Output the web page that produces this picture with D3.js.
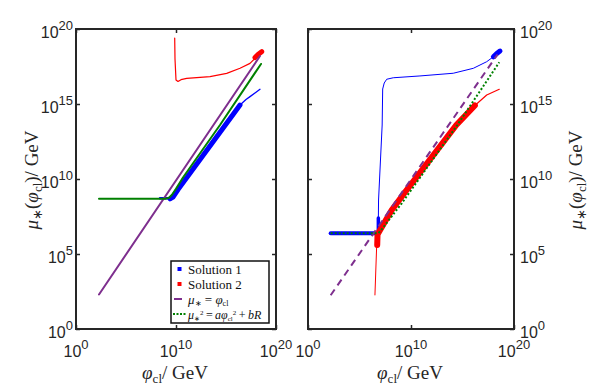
<!DOCTYPE html>
<html>
<head>
<meta charset="utf-8">
<script src="https://cdn.jsdelivr.net/npm/d3@7"></script>
<style>
  body { margin: 0; background: #fff; }
  svg { display: block; }
</style>
</head>
<body>
<script>
// all values are log10 exponents
const xTicks = [0, 10, 20];
const yTicks = [0, 5, 10, 15, 20];

// left panel
const blueL_flat_x = [8.4, 9.4];
const blueL_flat_y = [8.72, 8.72];
const blueL_thick_x = [9.4, 9.7, 10.2, 12, 14, 16.4];
const blueL_thick_y = [8.68, 8.8, 9.3, 10.93, 12.75, 14.93];
const blueL_thin_x = [16.4, 17.0, 17.4, 18.0, 18.4];
const blueL_thin_y = [14.93, 15.3, 15.49, 15.78, 15.98];
const redL_thin_x = [9.87, 9.9, 10.0, 10.2, 10.5, 11.07, 13.4, 15.07, 16.4, 17.4, 18.07];
const redL_thin_y = [19.4, 18.0, 16.6, 16.5, 16.62, 16.71, 16.82, 17.04, 17.38, 17.71, 18.15];
const redL_end_x = [17.9, 18.2, 18.57];
const redL_end_y = [18.1, 18.3, 18.49];
const purpleL_x = [2.3, 18.4];
const purpleL_y = [2.3, 18.2];
const greenL_x = [2.3, 9.0, 9.3, 9.6, 10.0, 10.7, 14.4, 18.5];
const greenL_y = [8.69, 8.69, 8.75, 8.95, 9.35, 10.1, 13.6, 17.67];

// right panel
const blueR_flat_x = [2.2, 6.8];
const blueR_flat_y = [6.38, 6.38];
const blueR_stub_x = [6.83, 6.83];
const blueR_stub_y = [6.38, 7.4];
const blueR_thin_x = [6.83, 6.85, 7.2, 7.25, 7.4, 7.64, 8.28, 10.87, 14.1, 16.05, 17.35, 18.0];
const blueR_thin_y = [7.4, 8.6, 13.6, 16.0, 16.4, 16.65, 16.75, 16.87, 17.05, 17.38, 17.82, 18.15];
const blueR_end_x = [18.0, 18.3, 18.64];
const blueR_end_y = [18.15, 18.35, 18.53];
const redR_low_x = [6.5, 6.67];
const redR_low_y = [2.27, 5.6];
const redR_thick_x = [6.72, 6.75, 7.0, 8.13, 9.58, 14.4, 16.2];
const redR_thick_y = [5.6, 6.3, 6.6, 7.93, 9.27, 13.6, 14.9];
const redR_thin_x = [16.2, 17.35, 18.57];
const redR_thin_y = [14.9, 15.6, 15.98];
const purpleR_x = [2.2, 18.4];
const purpleR_y = [2.25, 18.3];
const greenR_x = [2.2, 6.8, 7.0, 9.1, 14.5, 18.57];
const greenR_y = [6.38, 6.38, 6.5, 8.38, 13.6, 17.78];

const width = 592, height = 388;
const blue = "#0000ff", red = "#ff0000", purple = "#7e2f8e", green = "#008000", axisCol = "#262626";

const svg = d3.select("body").append("svg")
  .attr("width", width)
  .attr("height", height);

const yScale = d3.scaleLog().domain([1, 1e20]).range([329, 29]);

function zip(xs, ys) { return xs.map((x, i) => [Math.pow(10, x), Math.pow(10, ys[i])]); }

function label10(g, x, y, e, anchor) {
  const t = g.append("text")
    .attr("x", x).attr("y", y)
    .attr("text-anchor", anchor)
    .style("font-family", "Liberation Sans, Arial, sans-serif")
    .style("font-size", "16px")
    .style("fill", axisCol);
  t.append("tspan").text("10");
  t.append("tspan").attr("dy", -8).style("font-size", "13px").text(e);
}

function panel(x0, x1, side) {
  const xScale = d3.scaleLog().domain([1, 1e20]).range([x0, x1]);
  const g = svg.append("g");
  const line = d3.line().x(d => xScale(d[0])).y(d => yScale(d[1]));

  // ticks on all sides, pointing inward
  g.append("g").attr("transform", "translate(0,329)")
    .call(d3.axisBottom(xScale).tickValues(xTicks.map(v => Math.pow(10, v))).tickSize(-4).tickFormat(""));
  g.append("g").attr("transform", "translate(0,29)")
    .call(d3.axisTop(xScale).tickValues(xTicks.map(v => Math.pow(10, v))).tickSize(-4).tickFormat(""));
  g.append("g").attr("transform", "translate(" + x0 + ",0)")
    .call(d3.axisLeft(yScale).tickValues(yTicks.map(v => Math.pow(10, v))).tickSize(-4).tickFormat(""));
  g.append("g").attr("transform", "translate(" + x1 + ",0)")
    .call(d3.axisRight(yScale).tickValues(yTicks.map(v => Math.pow(10, v))).tickSize(-4).tickFormat(""));
  g.selectAll(".domain").remove();
  g.selectAll(".tick line").attr("stroke", axisCol).attr("stroke-width", 1.5);

  xTicks.forEach(v => label10(g, xScale(Math.pow(10, v)), 357, v, "middle"));
  yTicks.forEach(v => {
    const yy = yScale(Math.pow(10, v)) + 9;
    if (side === "left") label10(g, x0 - 3, yy, v, "end");
    else label10(g, x1 + 6, yy, v, "start");
  });

  const plot = g.append("g");
  return { g: g, plot: plot, line: line, xScale: xScale };
}

function drawLine(p, xs, ys, color, w, dash) {
  p.plot.append("path")
    .datum(zip(xs, ys))
    .attr("d", p.line)
    .attr("fill", "none")
    .attr("stroke", color)
    .attr("stroke-width", w)
    .attr("stroke-linecap", dash ? "butt" : "round")
    .attr("stroke-linejoin", "round")
    .attr("stroke-dasharray", dash || null);
}

function frame(p, x0, x1) {
  p.g.append("rect")
    .attr("x", x0).attr("y", 29)
    .attr("width", x1 - x0).attr("height", 300)
    .attr("fill", "none")
    .attr("stroke", axisCol)
    .attr("stroke-width", 2);
}

// ---- left panel
const L = panel(76, 276, "left");
drawLine(L, blueL_flat_x, blueL_flat_y, blue, 2.5);
drawLine(L, blueL_thick_x, blueL_thick_y, blue, 5);
drawLine(L, blueL_thin_x, blueL_thin_y, blue, 1.3);
drawLine(L, redL_thin_x, redL_thin_y, red, 1.2);
drawLine(L, redL_end_x, redL_end_y, red, 5);
drawLine(L, purpleL_x, purpleL_y, purple, 2);
drawLine(L, greenL_x, greenL_y, green, 2);
frame(L, 76, 276);

// ---- right panel
const R = panel(308, 514, "right");
drawLine(R, blueR_flat_x, blueR_flat_y, blue, 4);
drawLine(R, blueR_stub_x, blueR_stub_y, blue, 3.5);
drawLine(R, blueR_thin_x, blueR_thin_y, blue, 1);
drawLine(R, blueR_end_x, blueR_end_y, blue, 5);
drawLine(R, redR_low_x, redR_low_y, red, 1);
drawLine(R, redR_thick_x, redR_thick_y, red, 6);
drawLine(R, redR_thin_x, redR_thin_y, red, 1.2);
drawLine(R, purpleR_x, purpleR_y, purple, 2, "7,5");
drawLine(R, greenR_x, greenR_y, green, 2, "2,2");
frame(R, 308, 514);

// ---- axis titles
const serif = "Liberation Serif, Times New Roman, serif";
function xTitle(cx) {
  const t = svg.append("text")
    .attr("x", cx).attr("y", 379)
    .attr("text-anchor", "middle")
    .style("font-family", serif).style("font-size", "19px").style("fill", axisCol);
  t.append("tspan").style("font-style", "italic").text("φ");
  t.append("tspan").attr("dy", 4).style("font-size", "13px").text("cl");
  t.append("tspan").attr("dy", -4).text("/ GeV");
}
xTitle(175);
xTitle(410);

function yTitle(bx) {
  const t = svg.append("text")
    .attr("transform", "translate(" + bx + ",180) rotate(-90)")
    .attr("text-anchor", "middle")
    .style("font-family", serif).style("font-size", "19px").style("fill", axisCol);
  t.append("tspan").style("font-style", "italic").text("μ");
  t.append("tspan").attr("dy", 4).style("font-size", "13px").text("∗");
  t.append("tspan").attr("dy", -4).text("(");
  t.append("tspan").style("font-style", "italic").text("φ");
  t.append("tspan").attr("dy", 4).style("font-size", "13px").text("cl");
  t.append("tspan").attr("dy", -4).text(")/ GeV");
}
yTitle(38);
yTitle(582);

// ---- legend
const leg = svg.append("g");
leg.append("rect")
  .attr("x", 171).attr("y", 261).attr("width", 98).attr("height", 62)
  .attr("fill", "#fff").attr("stroke", "#111").attr("stroke-width", 1.5);

const legRows = [269, 284, 299, 314];
leg.append("rect").attr("x", 177.5).attr("y", legRows[0] - 2).attr("width", 4).attr("height", 4).attr("fill", blue);
leg.append("rect").attr("x", 177.5).attr("y", legRows[1] - 2).attr("width", 4).attr("height", 4).attr("fill", red);
leg.append("line").attr("x1", 174).attr("x2", 182).attr("y1", legRows[2]).attr("y2", legRows[2])
  .attr("stroke", purple).attr("stroke-width", 2);
leg.append("line").attr("x1", 173).attr("x2", 187).attr("y1", legRows[3]).attr("y2", legRows[3])
  .attr("stroke", green).attr("stroke-width", 2).attr("stroke-dasharray", "2,1.5");

function legText(y, size) {
  return leg.append("text").attr("x", 188).attr("y", y + 4.5)
    .style("font-family", serif).style("font-size", (size || 13) + "px").style("fill", "#111");
}
legText(legRows[0]).text("Solution 1");
legText(legRows[1]).text("Solution 2");
let t3 = legText(legRows[2]);
t3.append("tspan").style("font-style", "italic").text("μ");
t3.append("tspan").attr("dy", 2).style("font-size", "8px").text("∗");
t3.append("tspan").attr("dy", -2).text(" = ");
t3.append("tspan").style("font-style", "italic").text("φ");
t3.append("tspan").attr("dy", 2).style("font-size", "8px").text("cl");
let t4 = legText(legRows[3], 12);
t4.append("tspan").style("font-style", "italic").text("μ");
t4.append("tspan").attr("dy", 2).style("font-size", "7px").text("∗");
t4.append("tspan").attr("dy", -6).style("font-size", "7px").text("2");
t4.append("tspan").attr("dy", 4).text("\u2009=\u2009");
t4.append("tspan").style("font-style", "italic").text("aφ");
t4.append("tspan").attr("dy", 2).style("font-size", "7px").text("cl");
t4.append("tspan").attr("dy", -6).style("font-size", "7px").text("2");
t4.append("tspan").attr("dy", 4).text("\u2009+\u2009");
t4.append("tspan").style("font-style", "italic").text("bR");
</script>
</body>
</html>
